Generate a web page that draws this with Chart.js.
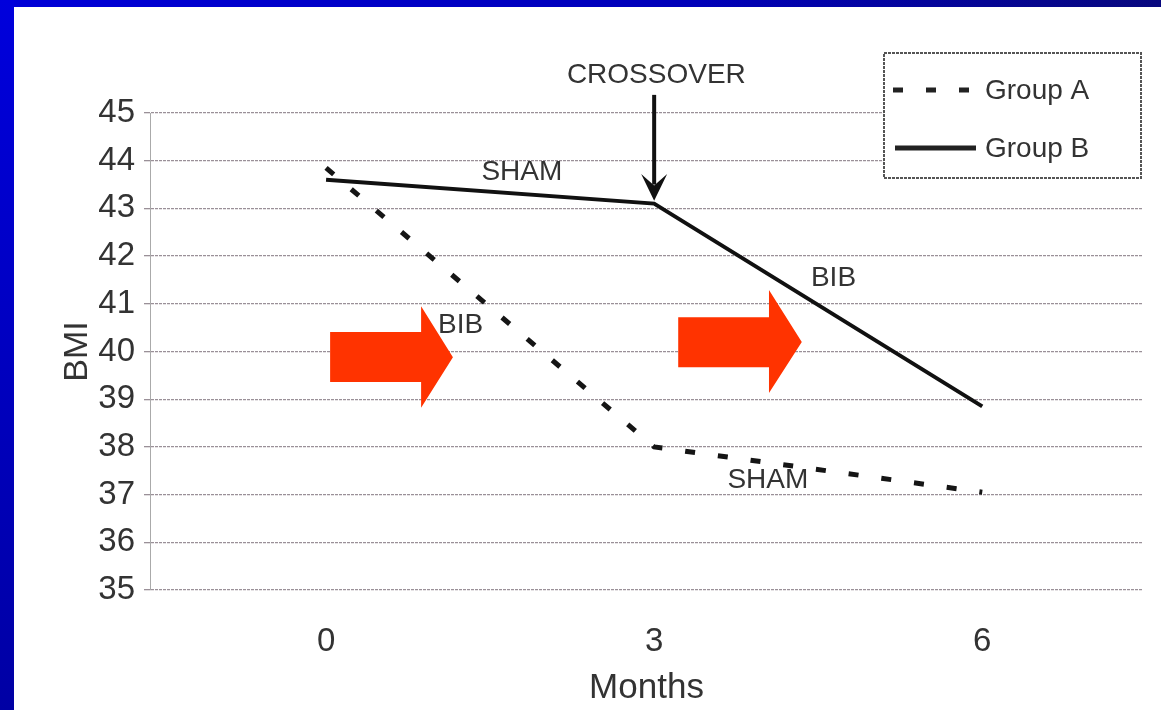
<!DOCTYPE html>
<html>
<head>
<meta charset="utf-8">
<script src="https://cdn.jsdelivr.net/npm/chart.js@4/dist/chart.umd.min.js"></script>
<style>
  html, body { margin: 0; padding: 0; background: #fff; }
</style>
</head>
<body>
<canvas id="myChart" width="1161" height="710"></canvas>
<script>
// values
const months = [0, 3, 6];
const groupA = [43.85, 38.0, 37.05];
const groupB = [43.6, 43.1, 38.85];
const monthTicks = [0, 3, 6];
const bmiMin = 35;
const bmiMax = 45;

const FONT = "'Liberation Sans', Arial, sans-serif";
const TEXT = "#333";

// slide frame: blue bars on the left and top
const slideFrame = {
  id: "slideFrame",
  beforeDraw(chart) {
    const c = chart.ctx;
    c.save();
    c.fillStyle = "#fff";
    c.fillRect(0, 0, chart.width, chart.height);
    let g = c.createLinearGradient(0, 0, chart.width, 0);
    g.addColorStop(0, "#0000d8");
    g.addColorStop(0.6, "#0000b8");
    g.addColorStop(1, "#08087e");
    c.fillStyle = g;
    c.fillRect(0, 0, chart.width, 7);
    g = c.createLinearGradient(0, 0, 0, chart.height);
    g.addColorStop(0, "#0000dc");
    g.addColorStop(1, "#0000a4");
    c.fillStyle = g;
    c.fillRect(0, 0, 14, chart.height);
    c.restore();
  },
};

function blockArrow(c, x, y, x0, x1, xt, yb0, yb1, yh0, yh1, yt) {
  c.beginPath();
  c.moveTo(x(x0), y(yb0));
  c.lineTo(x(x1), y(yb0));
  c.lineTo(x(x1), y(yh0));
  c.lineTo(x(xt), y(yt));
  c.lineTo(x(x1), y(yh1));
  c.lineTo(x(x1), y(yb1));
  c.lineTo(x(x0), y(yb1));
  c.closePath();
  c.fill();
}

// labels, crossover arrow, red arrows, legend
const notes = {
  id: "notes",
  afterDatasetsDraw(chart) {
    const c = chart.ctx;
    const sx = chart.scales.x, sy = chart.scales.y;
    const x = (v) => sx.getPixelForValue(v);
    const y = (v) => sy.getPixelForValue(v);
    c.save();

    c.fillStyle = "#ff3300";
    blockArrow(c, x, y, 0.037, 0.869, 1.16, 40.41, 39.36, 40.95, 38.82, 39.88);
    blockArrow(c, x, y, 3.22, 4.05, 4.35, 40.72, 39.67, 41.29, 39.13, 40.2);

    c.fillStyle = TEXT;
    c.font = "28px " + FONT;
    c.textAlign = "center";
    c.textBaseline = "middle";
    c.fillText("CROSSOVER", x(3.02), y(45.8));
    c.fillText("SHAM", x(1.79), y(43.76));
    c.fillText("BIB", x(4.64), y(41.54));
    c.fillText("BIB", x(1.23), y(40.56));
    c.fillText("SHAM", x(4.04), y(37.29));

    // crossover arrow
    c.strokeStyle = "#111";
    c.lineWidth = 4;
    c.beginPath();
    c.moveTo(x(3), y(45.38));
    c.lineTo(x(3), y(43.5));
    c.stroke();
    c.fillStyle = "#111";
    c.beginPath();
    c.moveTo(x(3) - 13, y(43.72));
    c.lineTo(x(3), y(43.16));
    c.lineTo(x(3) + 13, y(43.72));
    c.lineTo(x(3), y(43.48));
    c.closePath();
    c.fill();

    // legend box
    c.fillStyle = "#fff";
    c.fillRect(884, 53, 257, 125);
    c.strokeStyle = "#555";
    c.lineWidth = 2;
    c.setLineDash([3, 1]);
    c.strokeRect(884, 53, 257, 125);
    c.setLineDash([10, 23]);
    c.lineWidth = 5;
    c.strokeStyle = "#222";
    c.beginPath();
    c.moveTo(893, 90);
    c.lineTo(975, 90);
    c.stroke();
    c.setLineDash([]);
    c.beginPath();
    c.moveTo(895, 148);
    c.lineTo(976, 148);
    c.stroke();
    c.fillStyle = TEXT;
    c.textAlign = "left";
    c.font = "28px " + FONT;
    c.fillText("Group A", 985, 91);
    c.fillText("Group B", 985, 149);
    c.restore();
  },
};

new Chart(document.getElementById("myChart"), {
  type: "line",
  data: {
    datasets: [
      {
        label: "Group A",
        data: months.map((m, i) => ({ x: m, y: groupA[i] })),
        borderColor: "#151515",
        borderWidth: 5,
        borderDash: [10, 23],
        pointRadius: 0,
        tension: 0,
      },
      {
        label: "Group B",
        data: months.map((m, i) => ({ x: m, y: groupB[i] })),
        borderColor: "#111",
        borderWidth: 4,
        pointRadius: 0,
        tension: 0,
      },
    ],
  },
  options: {
    responsive: false,
    animation: false,
    devicePixelRatio: 1,
    layout: { padding: { left: 0, top: 113, right: 18, bottom: 0 } },
    plugins: {
      legend: { display: false },
      tooltip: { enabled: false },
    },
    scales: {
      x: {
        type: "linear",
        min: -1.61,
        max: 7.47,
        afterBuildTicks: (s) => {
          s.ticks = monthTicks.map((v) => ({ value: v }));
        },
        afterFit: (s) => {
          s.height = 120;
        },
        grid: { display: false },
        border: { display: false },
        ticks: {
          color: TEXT,
          padding: 24,
          font: { family: FONT, size: 33 },
        },
        title: {
          display: true,
          text: "Months",
          color: TEXT,
          padding: { top: 0, bottom: 1 },
          font: { family: FONT, size: 35 },
        },
      },
      y: {
        min: bmiMin,
        max: bmiMax,
        afterFit: (s) => {
          s.width = 150;
        },
        grid: {
          color: "#9a9098",
          lineWidth: 1.3,
          tickLength: 6,
        },
        border: { color: "#aaa", width: 1, dash: [3, 1] },
        ticks: {
          stepSize: 1,
          color: TEXT,
          padding: 9,
          font: { family: FONT, size: 33 },
        },
        title: {
          display: true,
          text: "BMI",
          color: TEXT,
          padding: { top: 57, bottom: 0 },
          font: { family: FONT, size: 34 },
        },
      },
    },
  },
  plugins: [slideFrame, notes],
});
</script>
</body>
</html>
